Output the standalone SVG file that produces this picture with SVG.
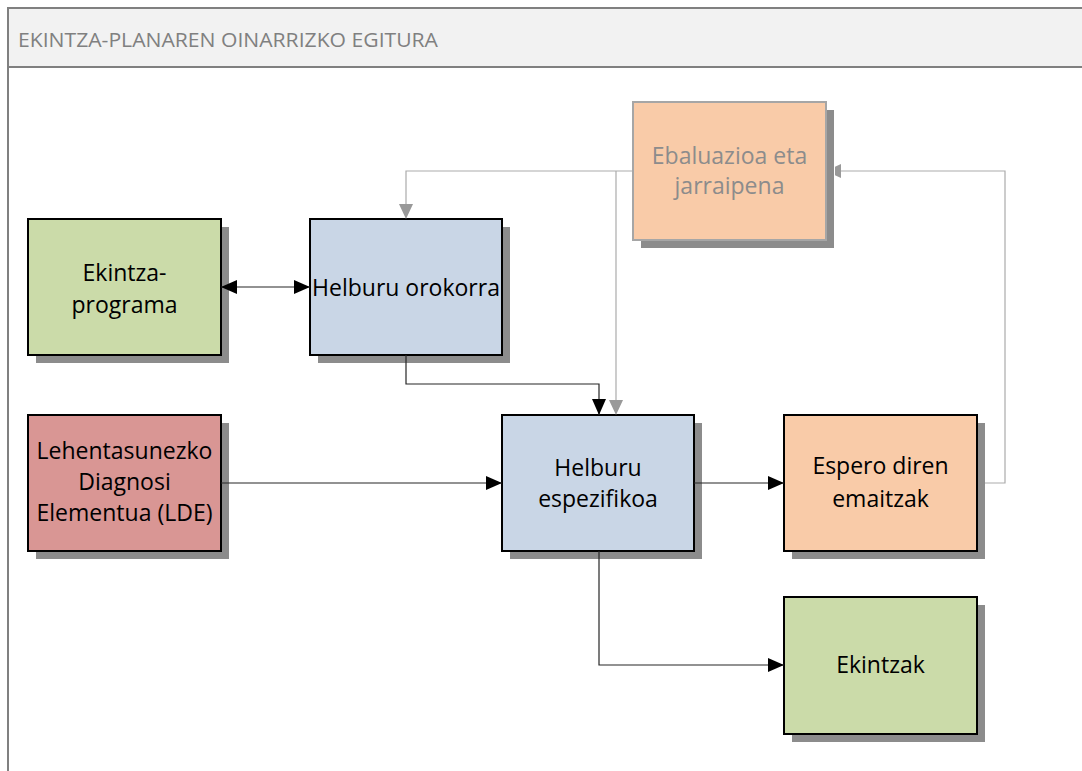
<svg xmlns="http://www.w3.org/2000/svg" width="1082" height="771" viewBox="0 0 1082 771">
<defs>
<style>
.frame{fill:none;stroke:#808080;stroke-width:2}
.shadow{fill:#8c8c8c}
.box{stroke:#000;stroke-width:2}
.green{fill:#cbdba9}
.blue{fill:#c9d6e6}
.orange{fill:#f9cba8}
.red{fill:#d99694}
.lbl{font-family:"Open Sans","Liberation Sans",sans-serif;font-size:23px;fill:#000;text-anchor:middle}
.glbl{fill:#8c8c8c}
.hdr{font-family:"Open Sans","Liberation Sans",sans-serif;font-size:20px;fill:#808080}
.c{fill:none;stroke:#262626;stroke-width:1.2}
.g{fill:none;stroke:#ababab;stroke-width:1.2}
</style>
<marker id="ab" viewBox="0 0 16 14" refX="16" refY="7" markerWidth="16" markerHeight="14" markerUnits="userSpaceOnUse" orient="auto-start-reverse"><path d="M0,0L16,7L0,14z" fill="#000"/></marker>
</defs>
<rect x="0" y="0" width="1082" height="771" fill="#fff"/>
<g id="frame">
<rect x="8" y="8" width="1080" height="59" fill="#f2f2f2"/>
<line class="frame" x1="8" y1="8" x2="1082" y2="8"/>
<line class="frame" x1="8" y1="67" x2="1082" y2="67"/>
<line class="frame" x1="8" y1="7" x2="8" y2="771"/>
<text class="hdr" x="18" y="47" textLength="420" lengthAdjust="spacingAndGlyphs">EKINTZA-PLANAREN OINARRIZKO EGITURA</text>
</g>
<g id="connectors">
<path class="g" d="M633,171H406V205"/>
<path class="g" d="M616,171V401"/>
<path class="g" d="M985,483H1005V171H841"/>
</g>
<g id="n-ekintza-programa">
<rect class="shadow" x="36" y="227" width="193" height="136"/>
<rect class="box green" x="28" y="219" width="193" height="136"/>
<text class="lbl" x="124.5" y="281">Ekintza-</text>
<text class="lbl" x="124.5" y="313">programa</text>
</g>
<g id="n-helburu-orokorra">
<rect class="shadow" x="318" y="227" width="192" height="136"/>
<rect class="box blue" x="310" y="219" width="192" height="136"/>
<text class="lbl" x="406" y="296">Helburu orokorra</text>
</g>
<g id="n-ebaluazioa">
<rect class="shadow" x="641" y="110" width="193" height="138"/>
<rect class="orange" x="633" y="102" width="193" height="138" stroke="#a6a6a6" stroke-width="2"/>
<text class="lbl glbl" x="729.5" y="164">Ebaluazioa eta</text>
<text class="lbl glbl" x="729.5" y="194">jarraipena</text>
</g>
<g id="n-lde">
<rect class="shadow" x="36" y="423" width="193" height="136"/>
<rect class="box red" x="28" y="415" width="193" height="136"/>
<text class="lbl" x="124.5" y="459">Lehentasunezko</text>
<text class="lbl" x="124.5" y="490">Diagnosi</text>
<text class="lbl" x="124.5" y="521">Elementua (LDE)</text>
</g>
<g id="n-helburu-espezifikoa">
<rect class="shadow" x="510" y="423" width="192" height="136"/>
<rect class="box blue" x="502" y="415" width="192" height="136"/>
<text class="lbl" x="598" y="476">Helburu</text>
<text class="lbl" x="598" y="507">espezifikoa</text>
</g>
<g id="n-espero">
<rect class="shadow" x="792" y="423" width="193" height="136"/>
<rect class="box orange" x="784" y="415" width="193" height="136"/>
<text class="lbl" x="880.5" y="474">Espero diren</text>
<text class="lbl" x="880.5" y="507">emaitzak</text>
</g>
<g id="n-ekintzak">
<rect class="shadow" x="792" y="605" width="193" height="137"/>
<rect class="box green" x="784" y="597" width="193" height="137"/>
<text class="lbl" x="880.5" y="673">Ekintzak</text>
</g>
<g id="connectors-front">
<path class="c" d="M221,287H310" marker-start="url(#ab)" marker-end="url(#ab)"/>
<path class="c" d="M406,355V384H599V415" marker-end="url(#ab)"/>
<path class="c" d="M221,483H502" marker-end="url(#ab)"/>
<path class="c" d="M694,483H784" marker-end="url(#ab)"/>
<path class="c" d="M599,551V665H784" marker-end="url(#ab)"/>
<path d="M399,204L413,204L406,219z" fill="#999"/>
<path d="M609,400L623,400L616,415z" fill="#999"/>
<path d="M841,164L841,178L835,175.2L835,166.8z" fill="#999"/>
</g>
</svg>
